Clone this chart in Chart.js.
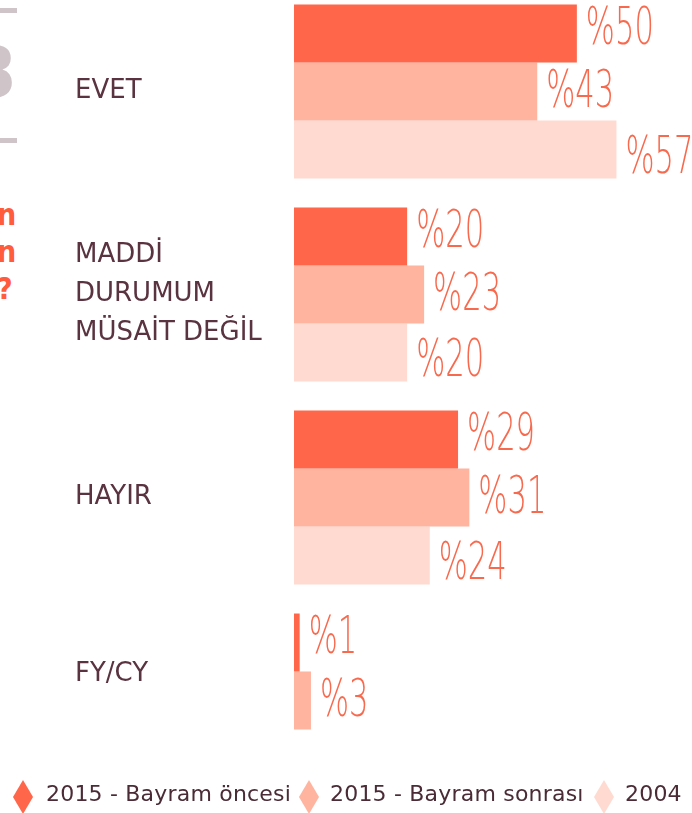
<!DOCTYPE html>
<html>
<head>
<meta charset="utf-8">
<script src="https://cdn.jsdelivr.net/npm/chart.js@4.4.1/dist/chart.umd.min.js"></script>
<style>
  html, body { margin: 0; padding: 0; background: #ffffff; }
  #stage { position: relative; width: 692px; height: 813px; overflow: hidden; background: #fff; }
  #wrap { position: absolute; left: 0; top: -10px; width: 692px; height: 823px; }
  .frag { position: absolute; white-space: nowrap; }
  .gline { position: absolute; left: 0; width: 17px; height: 5px; background: #cfc5c8; }
  #legend { position: absolute; left: 0; top: 778px; width: 692px; height: 35px; }
  .lg-mark { position: absolute; top: 2px; width: 20px; height: 34px;
             clip-path: polygon(50% 0, 100% 50%, 50% 100%, 0 50%); }
  .lg-text { position: absolute; top: 3px; font-family: "DejaVu Sans", sans-serif; font-size: 22px;
             color: #4a2b36; white-space: nowrap; letter-spacing: 0.2px; }
</style>
</head>
<body>
<div id="stage">
  <div class="gline" style="top:8px"></div>
  <div class="frag" style="left:-27px; top:38px; font-family:'DejaVu Sans Condensed','DejaVu Sans'; font-weight:bold; font-size:70px; line-height:70px; color:#cfc5c8;">3</div>
  <div class="gline" style="top:138px"></div>
  <div class="frag" style="left:-3px; top:196px; font-family:'DejaVu Sans Condensed','DejaVu Sans'; font-weight:bold; font-size:30px; line-height:37px; color:#ff5b3d;">n<br>n<br>?</div>
  <div id="wrap"><canvas id="c"></canvas></div>
  <div id="legend"></div>
</div>
<script>
const categories = ["EVET", ["MADDİ", "DURUMUM", "MÜSAİT DEĞİL"], "HAYIR", ["FY/CY", ""]];
const seriesNames = ["2015 - Bayram öncesi", "2015 - Bayram sonrası", "2004"];
const bayramOncesi = [50, 20, 29, 1];
const bayramSonrasi = [43, 23, 31, 3];
const yil2004 = [57, 20, 24, null];
const xMax = 70;

const colors = ["#ff664a", "#ffb4a0", "#ffdad0"];
const labelColor = "#f86a4e";
const labelOffsets = [-3, 2, 10];

const valueLabels = {
  id: 'valueLabels',
  afterDatasetsDraw(chart) {
    const ctx = chart.ctx;
    ctx.save();
    ctx.fillStyle = labelColor;
    ctx.textAlign = 'left';
    ctx.textBaseline = 'middle';
    ctx.font = '200 51px "DejaVu Sans ExtraLight", "DejaVu Sans", sans-serif';
    chart.data.datasets.forEach((ds, di) => {
      const meta = chart.getDatasetMeta(di);
      meta.data.forEach((bar, i) => {
        const v = ds.data[i];
        if (v === null || v === undefined) return;
        ctx.save();
        ctx.translate(bar.x + 9, bar.y + labelOffsets[di]);
        ctx.scale(0.6, 1);
        ctx.fillText('%' + v, 0, 0);
        ctx.restore();
      });
    });
    ctx.restore();
  }
};

const chart = new Chart(document.getElementById('c'), {
  type: 'bar',
  data: {
    labels: categories,
    datasets: [
      { label: seriesNames[0], data: bayramOncesi, backgroundColor: colors[0] },
      { label: seriesNames[1], data: bayramSonrasi, backgroundColor: colors[1] },
      { label: seriesNames[2], data: yil2004, backgroundColor: colors[2] }
    ]
  },
  options: {
    indexAxis: 'y',
    responsive: true,
    maintainAspectRatio: false,
    animation: false,
    layout: { padding: { left: 75, right: 2, top: 0, bottom: 11 } },
    datasets: { bar: { barPercentage: 1.0, categoryPercentage: 0.857, borderWidth: 0 } },
    plugins: { legend: { display: false }, tooltip: { enabled: false } },
    scales: {
      x: { display: false, min: 0, max: xMax },
      y: {
        grid: { display: false },
        border: { display: false },
        afterFit(scale) { scale.width = 219; scale.paddingTop = 0; scale.paddingBottom = 0; },
        ticks: {
          crossAlign: 'far',
          color: '#5a3340',
          padding: 0,
          font: (ctx) => ({
            family: '"DejaVu Sans", sans-serif',
            size: 26,
            lineHeight: ctx.index === 3 ? '53px' : '39px'
          })
        }
      }
    }
  },
  plugins: [valueLabels]
});

// HTML legend built from the chart's datasets
const legendPos = [{ m: 13, t: 46 }, { m: 299, t: 330 }, { m: 594, t: 625 }];
const legend = document.getElementById('legend');
chart.data.datasets.forEach((ds, i) => {
  const mk = document.createElement('div');
  mk.className = 'lg-mark';
  mk.style.left = legendPos[i].m + 'px';
  mk.style.background = ds.backgroundColor;
  const tx = document.createElement('div');
  tx.className = 'lg-text';
  tx.style.left = legendPos[i].t + 'px';
  tx.textContent = ds.label;
  legend.appendChild(mk);
  legend.appendChild(tx);
});
</script>
</body>
</html>
